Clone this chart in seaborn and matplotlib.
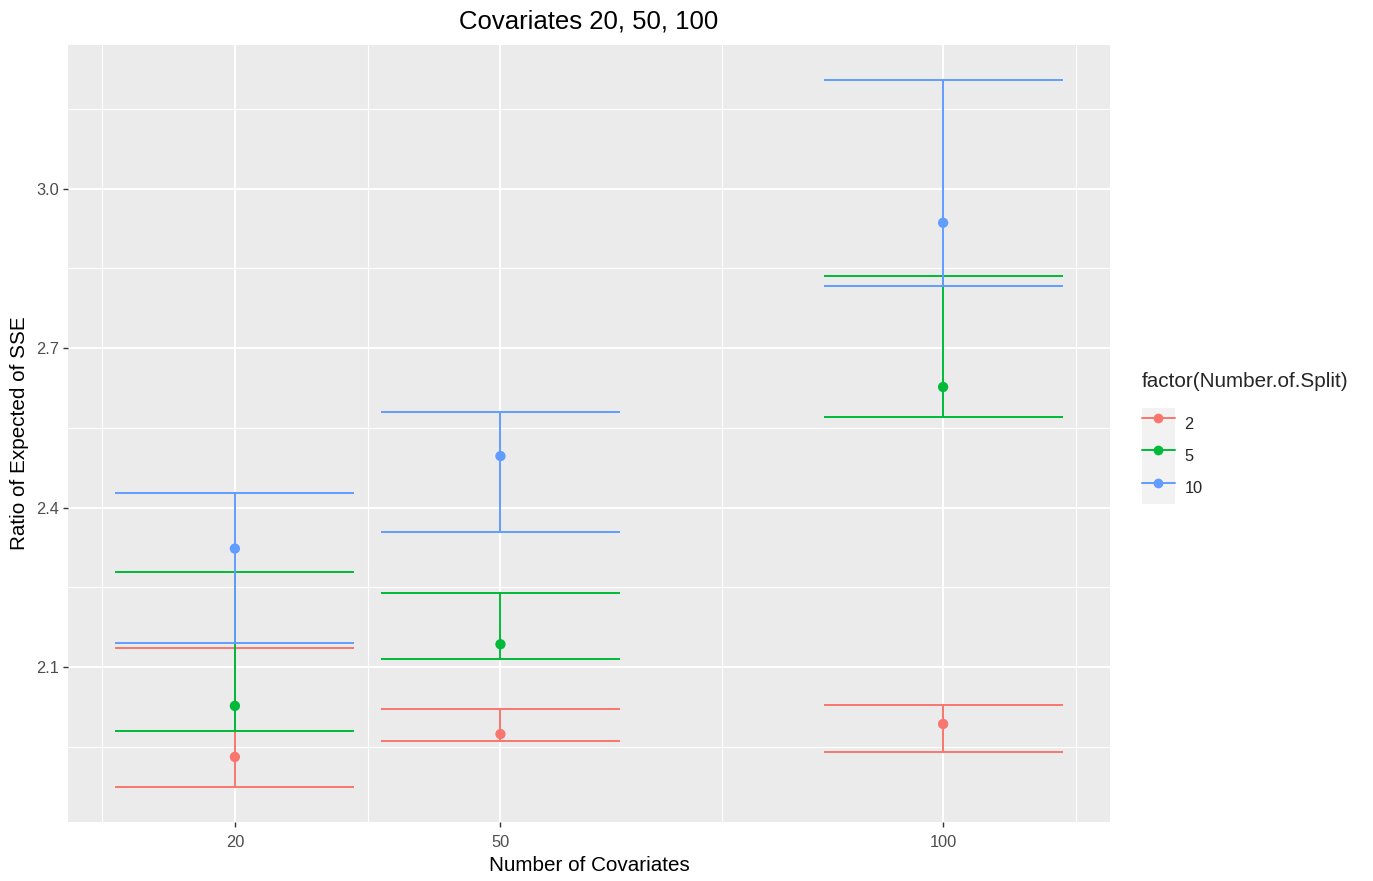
import numpy as np
import pandas as pd
import seaborn as sns
import matplotlib
matplotlib.use("Agg")
import matplotlib.pyplot as plt
from matplotlib.lines import Line2D
from matplotlib.patches import Patch
from matplotlib.legend_handler import HandlerTuple

# Ratio of expected SSE by number of covariates and number of splits
covariates = [20, 50, 100]
split_levels = ["2", "5", "10"]

mean_2 = [1.931, 1.974, 1.993]
lower_2 = [1.875, 1.961, 1.940]
upper_2 = [2.135, 2.022, 2.028]

mean_5 = [2.027, 2.143, 2.627]
lower_5 = [1.980, 2.116, 2.570]
upper_5 = [2.278, 2.240, 2.836]

mean_10 = [2.323, 2.497, 2.936]
lower_10 = [2.146, 2.355, 2.817]
upper_10 = [2.428, 2.580, 3.204]

x_breaks = [20, 50, 100]
x_minor = [5, 35, 75, 115]
y_breaks = [2.1, 2.4, 2.7, 3.0]
y_minor = [1.95, 2.25, 2.55, 2.85, 3.15]

palette = {"2": "#F8766D", "5": "#00BA38", "10": "#619CFF"}

df = pd.DataFrame({
    "Number of Covariates": covariates * 3,
    "split": ["2"] * 3 + ["5"] * 3 + ["10"] * 3,
    "ratio": mean_2 + mean_5 + mean_10,
    "lower": lower_2 + lower_5 + lower_10,
    "upper": upper_2 + upper_5 + upper_10,
})

sns.set_theme(style="white")
plt.rcParams["font.family"] = ["Liberation Sans", "DejaVu Sans"]

fig = plt.figure(figsize=(13.73, 8.81), dpi=100)
ax = fig.add_axes([68 / 1373, 59 / 881, 1042 / 1373, 777 / 881])
ax.set_facecolor("#EBEBEB")
for s in ax.spines.values():
    s.set_visible(False)

# grid
for xv in x_minor:
    ax.axvline(xv, color="white", lw=0.8, zorder=0)
for yv in y_minor:
    ax.axhline(yv, color="white", lw=0.8, zorder=0)
for xv in x_breaks:
    ax.axvline(xv, color="white", lw=1.5, zorder=0)
for yv in y_breaks:
    ax.axhline(yv, color="white", lw=1.5, zorder=0)

half_w = 13.5
lw = 1.4
for lvl in split_levels:
    sub = df[df["split"] == lvl]
    c = palette[lvl]
    ax.vlines(sub["Number of Covariates"], sub["lower"], sub["upper"], color=c, lw=lw, zorder=2)
    ax.hlines(sub["lower"], sub["Number of Covariates"] - half_w, sub["Number of Covariates"] + half_w,
              color=c, lw=lw, zorder=2)
    ax.hlines(sub["upper"], sub["Number of Covariates"] - half_w, sub["Number of Covariates"] + half_w,
              color=c, lw=lw, zorder=2)

sns.scatterplot(data=df, x="Number of Covariates", y="ratio", hue="split",
                hue_order=split_levels, palette=palette, s=55, linewidth=0,
                legend=False, ax=ax, zorder=3)

# limits with 5% expansion
xmin = min(covariates) - half_w
xmax = max(covariates) + half_w
xr = xmax - xmin
ax.set_xlim(xmin - 0.05 * xr, xmax + 0.05 * xr)
ymin = df["lower"].min()
ymax = df["upper"].max()
yr = ymax - ymin
ax.set_ylim(ymin - 0.05 * yr, ymax + 0.05 * yr)

ax.set_xticks(x_breaks)
ax.set_xticklabels([str(v) for v in x_breaks])
ax.set_yticks(y_breaks)
ax.set_yticklabels([f"{v:.1f}" for v in y_breaks])
ax.tick_params(axis="both", which="major", length=3.7, width=1.0, color="#333333",
               labelcolor="#4D4D4D", labelsize=11.8, pad=3, direction="out",
               bottom=True, left=True)
ax.tick_params(axis="x", pad=6)

ax.set_xlabel("Number of Covariates", fontsize=14.9, color="black", labelpad=4)
ax.set_ylabel("Ratio of Expected of SSE", fontsize=14.9, color="black", labelpad=5)
ax.set_title("Covariates 20, 50, 100", fontsize=18.5, color="black", pad=12)

handles = []
for lvl in split_levels:
    handles.append((Patch(facecolor="#F2F2F2", edgecolor="none"),
                    Line2D([0], [0], color=palette[lvl], lw=lw, marker="o",
                           markersize=7, markeredgewidth=0)))
leg = fig.legend(handles, split_levels, handler_map={tuple: HandlerTuple(ndivide=1, pad=0)},
                 title="factor(Number.of.Split)", title_fontsize=14.9, fontsize=11.8,
                 loc="upper left", bbox_to_anchor=(1142 / 1373, 1 - 372 / 881),
                 frameon=False, borderpad=0, borderaxespad=0, handlelength=2.0,
                 handleheight=2.65, labelspacing=0, handletextpad=0.6,
                 alignment="left")
# gap between legend title and keys
leg._legend_box.sep = 12

fig.savefig("out.png", dpi=100, facecolor="white")
